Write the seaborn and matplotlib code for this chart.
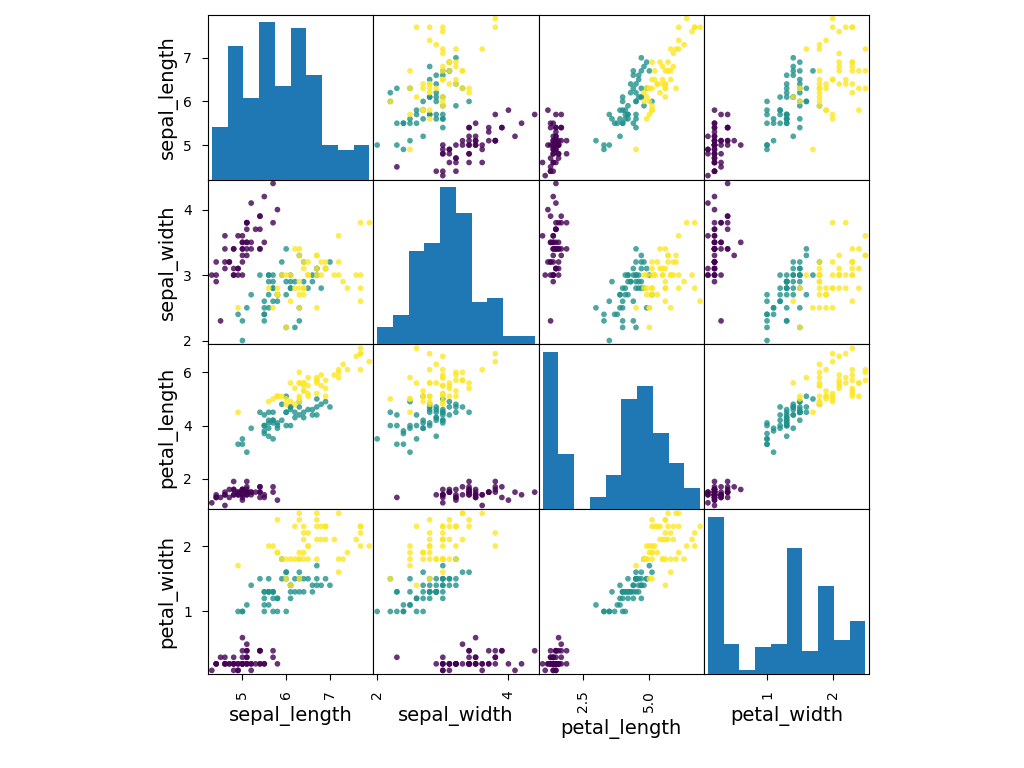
import numpy as np
import pandas as pd
import seaborn as sns
import matplotlib.pyplot as plt

# iris data, 50 rows per species
sepal_length = [5.1, 4.9, 4.7, 4.6, 5.0, 5.4, 4.6, 5.0, 4.4, 4.9, 5.4, 4.8, 4.8, 4.3, 5.8, 5.7, 5.4, 5.1, 5.7, 5.1,
                5.4, 5.1, 4.6, 5.1, 4.8, 5.0, 5.0, 5.2, 5.2, 4.7, 4.8, 5.4, 5.2, 5.5, 4.9, 5.0, 5.5, 4.9, 4.4, 5.1,
                5.0, 4.5, 4.4, 5.0, 5.1, 4.8, 5.1, 4.6, 5.3, 5.0,
                7.0, 6.4, 6.9, 5.5, 6.5, 5.7, 6.3, 4.9, 6.6, 5.2, 5.0, 5.9, 6.0, 6.1, 5.6, 6.7, 5.6, 5.8, 6.2, 5.6,
                5.9, 6.1, 6.3, 6.1, 6.4, 6.6, 6.8, 6.7, 6.0, 5.7, 5.5, 5.5, 5.8, 6.0, 5.4, 6.0, 6.7, 6.3, 5.6, 5.5,
                5.5, 6.1, 5.8, 5.0, 5.6, 5.7, 5.7, 6.2, 5.1, 5.7,
                6.3, 5.8, 7.1, 6.3, 6.5, 7.6, 4.9, 7.3, 6.7, 7.2, 6.5, 6.4, 6.8, 5.7, 5.8, 6.4, 6.5, 7.7, 7.7, 6.0,
                6.9, 5.6, 7.7, 6.3, 6.7, 7.2, 6.2, 6.1, 6.4, 7.2, 7.4, 7.9, 6.4, 6.3, 6.1, 7.7, 6.3, 6.4, 6.0, 6.9,
                6.7, 6.9, 5.8, 6.8, 6.7, 6.7, 6.3, 6.5, 6.2, 5.9]
sepal_width = [3.5, 3.0, 3.2, 3.1, 3.6, 3.9, 3.4, 3.4, 2.9, 3.1, 3.7, 3.4, 3.0, 3.0, 4.0, 4.4, 3.9, 3.5, 3.8, 3.8,
               3.4, 3.7, 3.6, 3.3, 3.4, 3.0, 3.4, 3.5, 3.4, 3.2, 3.1, 3.4, 4.1, 4.2, 3.1, 3.2, 3.5, 3.6, 3.0, 3.4,
               3.5, 2.3, 3.2, 3.5, 3.8, 3.0, 3.8, 3.2, 3.7, 3.3,
               3.2, 3.2, 3.1, 2.3, 2.8, 2.8, 3.3, 2.4, 2.9, 2.7, 2.0, 3.0, 2.2, 2.9, 2.9, 3.1, 3.0, 2.7, 2.2, 2.5,
               3.2, 2.8, 2.5, 2.8, 2.9, 3.0, 2.8, 3.0, 2.9, 2.6, 2.4, 2.4, 2.7, 2.7, 3.0, 3.4, 3.1, 2.3, 3.0, 2.5,
               2.6, 3.0, 2.6, 2.3, 2.7, 3.0, 2.9, 2.9, 2.5, 2.8,
               3.3, 2.7, 3.0, 2.9, 3.0, 3.0, 2.5, 2.9, 2.5, 3.6, 3.2, 2.7, 3.0, 2.5, 2.8, 3.2, 3.0, 3.8, 2.6, 2.2,
               3.2, 2.8, 2.8, 2.7, 3.3, 3.2, 2.8, 3.0, 2.8, 3.0, 2.8, 3.8, 2.8, 2.8, 2.6, 3.0, 3.4, 3.1, 3.0, 3.1,
               3.1, 3.1, 2.7, 3.2, 3.3, 3.0, 2.5, 3.0, 3.4, 3.0]
petal_length = [1.4, 1.4, 1.3, 1.5, 1.4, 1.7, 1.4, 1.5, 1.4, 1.5, 1.5, 1.6, 1.4, 1.1, 1.2, 1.5, 1.3, 1.4, 1.7, 1.5,
                1.7, 1.5, 1.0, 1.7, 1.9, 1.6, 1.6, 1.5, 1.4, 1.6, 1.6, 1.5, 1.5, 1.4, 1.5, 1.2, 1.3, 1.4, 1.3, 1.5,
                1.3, 1.3, 1.3, 1.6, 1.9, 1.4, 1.6, 1.4, 1.5, 1.4,
                4.7, 4.5, 4.9, 4.0, 4.6, 4.5, 4.7, 3.3, 4.6, 3.9, 3.5, 4.2, 4.0, 4.7, 3.6, 4.4, 4.5, 4.1, 4.5, 3.9,
                4.8, 4.0, 4.9, 4.7, 4.3, 4.4, 4.8, 5.0, 4.5, 3.5, 3.8, 3.7, 3.9, 5.1, 4.5, 4.5, 4.7, 4.4, 4.1, 4.0,
                4.4, 4.6, 4.0, 3.3, 4.2, 4.2, 4.2, 4.3, 3.0, 4.1,
                6.0, 5.1, 5.9, 5.6, 5.8, 6.6, 4.5, 6.3, 5.8, 6.1, 5.1, 5.3, 5.5, 5.0, 5.1, 5.3, 5.5, 6.7, 6.9, 5.0,
                5.7, 4.9, 6.7, 4.9, 5.7, 6.0, 4.8, 4.9, 5.6, 5.8, 6.1, 6.4, 5.6, 5.1, 5.6, 6.1, 5.6, 5.5, 4.8, 5.4,
                5.6, 5.1, 5.1, 5.9, 5.7, 5.2, 5.0, 5.2, 5.4, 5.1]
petal_width = [0.2, 0.2, 0.2, 0.2, 0.2, 0.4, 0.3, 0.2, 0.2, 0.1, 0.2, 0.2, 0.1, 0.1, 0.2, 0.4, 0.4, 0.3, 0.3, 0.3,
               0.2, 0.4, 0.2, 0.5, 0.2, 0.2, 0.4, 0.2, 0.2, 0.2, 0.2, 0.4, 0.1, 0.2, 0.2, 0.2, 0.2, 0.1, 0.2, 0.2,
               0.3, 0.3, 0.2, 0.6, 0.4, 0.3, 0.2, 0.2, 0.2, 0.2,
               1.4, 1.5, 1.5, 1.3, 1.5, 1.3, 1.6, 1.0, 1.3, 1.4, 1.0, 1.5, 1.0, 1.4, 1.3, 1.4, 1.5, 1.0, 1.5, 1.1,
               1.8, 1.3, 1.5, 1.2, 1.3, 1.4, 1.4, 1.7, 1.5, 1.0, 1.1, 1.0, 1.2, 1.6, 1.5, 1.6, 1.5, 1.3, 1.3, 1.3,
               1.2, 1.4, 1.2, 1.0, 1.3, 1.2, 1.3, 1.3, 1.1, 1.3,
               2.5, 1.9, 2.1, 1.8, 2.2, 2.1, 1.7, 1.8, 1.8, 2.5, 2.0, 1.9, 2.1, 2.0, 2.4, 2.3, 1.8, 2.2, 2.3, 1.5,
               2.3, 2.0, 2.0, 1.8, 2.1, 1.8, 1.8, 1.8, 2.1, 1.6, 1.9, 2.0, 2.2, 1.5, 1.4, 2.3, 2.4, 1.8, 1.8, 2.1,
               2.4, 2.3, 1.9, 2.3, 2.5, 2.3, 1.9, 2.0, 2.3, 1.8]
species = ["setosa"] * 50 + ["versicolor"] * 50 + ["virginica"] * 50

columns = ["sepal_length", "sepal_width", "petal_length", "petal_width"]
ticks = {"sepal_length": [5, 6, 7],
         "sepal_width": [2, 3, 4],
         "petal_length": [2, 4, 6],
         "petal_width": [1, 2]}
bottom_ticks = {"sepal_length": ([5, 6, 7], ["5", "6", "7"]),
                "sepal_width": ([2, 4], ["2", "4"]),
                "petal_length": ([2.5, 5.0], ["2.5", "5.0"]),
                "petal_width": ([1, 2], ["1", "2"])}
colors = ["#440154", "#21918c", "#fde725"]

df = pd.DataFrame({"sepal_length": sepal_length, "sepal_width": sepal_width,
                   "petal_length": petal_length, "petal_width": petal_width,
                   "species": species})

# limits with 5% padding like pandas scatter_matrix
bounds = {}
for c in columns:
    lo, hi = df[c].min(), df[c].max()
    ext = (hi - lo) * 0.05 / 2
    bounds[c] = (lo - ext, hi + ext)

fig, axes = plt.subplots(4, 4, figsize=(10.24, 7.68), dpi=100)
fig.subplots_adjust(left=0.203, right=0.849, bottom=0.122, top=0.981, wspace=0, hspace=0)

for i, yv in enumerate(columns):
    for j, xv in enumerate(columns):
        ax = axes[i, j]
        if i == j:
            ax.set_ylim(bounds[yv])
            tw = ax.twinx()
            sns.histplot(x=df[xv], bins=10, color="#1f77b4", alpha=1, linewidth=0, ax=tw)
            tw.set_axis_off()
            tw.set_xlim(bounds[xv])
        else:
            sns.scatterplot(data=df, x=xv, y=yv, hue="species", palette=colors,
                            s=17, alpha=0.8, linewidth=0, legend=False, ax=ax)
            ax.set_ylim(bounds[yv])
        ax.set_xlim(bounds[xv])
        ax.set_xlabel("")
        ax.set_ylabel("")
        ax.tick_params(pad=7.5, length=4)

        if j == 0:
            ax.set_yticks(ticks[yv])
            ax.set_yticklabels([str(t) for t in ticks[yv]], fontsize=10)
            ax.set_ylabel(yv, fontsize=14)
        else:
            ax.set_yticks([])
        if i == 3:
            t, lab = bottom_ticks[xv]
            ax.set_xticks(t)
            ax.set_xticklabels(lab, fontsize=10, rotation=90)
            ax.set_xlabel(xv, fontsize=14, labelpad=5)
        else:
            ax.set_xticks([])

plt.savefig("out.png", dpi=100)
